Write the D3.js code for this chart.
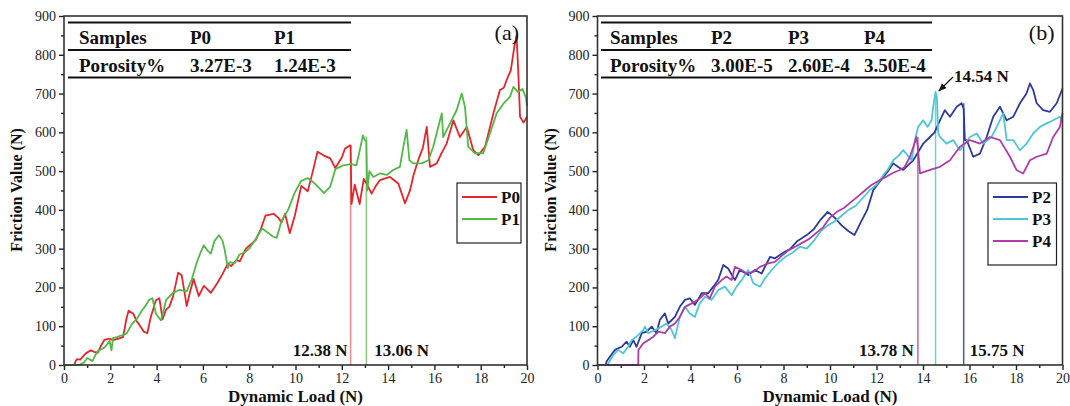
<!DOCTYPE html>
<html>
<head>
<meta charset="utf-8">
<script src="https://cdn.jsdelivr.net/npm/d3@7"></script>
<style>
  body { margin: 0; background: #fff; }
  svg { display: block; }
</style>
</head>
<body>
<svg width="1070" height="406" font-family="Liberation Serif, DejaVu Serif, serif"></svg>
<script>
const svg = d3.select("svg");
const SERIF = "Liberation Serif, DejaVu Serif, serif";

// [dynamic load (N), friction (N)]
const p0 = [[0,0],[0.45,0],[0.5,10],[0.56,15],[0.7,14],[0.94,30],[1.16,38],[1.3,34],[1.46,32],[1.6,50],[1.75,65],[1.95,68],[2.12,64],[2.35,68],[2.55,72],[2.7,120],[2.79,140],[3.0,132],[3.12,115],[3.23,106],[3.45,86],[3.6,82],[3.75,124],[3.97,167],[4.12,172],[4.26,118],[4.4,142],[4.55,150],[4.71,177],[4.85,215],[4.93,238],[5.08,232],[5.2,190],[5.3,152],[5.45,190],[5.6,222],[5.82,178],[6.04,204],[6.2,195],[6.34,186],[6.5,200],[6.63,212],[6.85,235],[7.08,262],[7.22,255],[7.44,270],[7.6,268],[7.86,300],[8.05,310],[8.28,322],[8.5,350],[8.7,385],[9.05,390],[9.25,380],[9.4,368],[9.55,390],[9.75,340],[9.97,385],[10.25,462],[10.53,448],[10.75,500],[10.95,550],[11.23,540],[11.5,533],[11.72,508],[12.0,535],[12.14,558],[12.35,566],[12.38,566],[12.42,415],[12.56,465],[12.77,415],[12.95,480],[13.05,470],[13.29,442],[13.45,460],[13.65,477],[14.08,485],[14.44,468],[14.6,440],[14.73,417],[14.95,451],[15.1,490],[15.3,528],[15.5,560],[15.67,614],[15.81,511],[16.1,520],[16.3,545],[16.53,571],[16.82,631],[17.1,588],[17.4,614],[17.68,554],[17.9,541],[18.19,563],[18.55,649],[18.83,709],[19.0,715],[19.12,735],[19.3,760],[19.45,820],[19.55,850],[19.62,760],[19.7,640],[19.85,625],[20,640]];
const p1 = [[0,0],[0.64,0],[0.75,3],[0.86,6],[1.0,18],[1.1,15],[1.23,10],[1.35,25],[1.46,36],[1.6,40],[1.75,45],[1.97,62],[2.05,38],[2.12,70],[2.3,72],[2.42,75],[2.6,78],[2.71,82],[2.94,106],[3.15,119],[3.38,142],[3.55,155],[3.67,168],[3.82,172],[3.97,132],[4.1,122],[4.19,115],[4.3,140],[4.41,168],[4.71,186],[5.0,194],[5.3,190],[5.52,221],[5.74,265],[5.9,290],[6.04,309],[6.2,295],[6.34,287],[6.5,320],[6.7,335],[6.85,320],[6.93,300],[7.08,250],[7.16,265],[7.37,262],[7.58,285],[7.8,290],[8.0,300],[8.28,325],[8.56,352],[8.84,340],[9.0,332],[9.19,328],[9.4,372],[9.68,400],[9.97,445],[10.25,475],[10.53,482],[10.7,475],[10.88,465],[11.05,455],[11.23,443],[11.5,460],[11.72,505],[12.07,515],[12.42,518],[12.63,515],[12.8,560],[12.91,592],[13.0,580],[13.06,577],[13.1,450],[13.19,500],[13.36,485],[13.65,494],[13.94,490],[14.22,503],[14.51,511],[14.65,560],[14.8,606],[14.92,528],[15.09,520],[15.45,520],[15.74,528],[15.95,563],[16.15,610],[16.32,649],[16.38,588],[16.6,614],[16.96,657],[17.18,700],[17.32,666],[17.46,563],[17.75,546],[18.11,546],[18.4,597],[18.69,649],[18.98,674],[19.27,692],[19.41,717],[19.62,704],[19.8,712],[19.95,690],[20,668]];
const p2 = [[0,0],[0.35,0],[0.39,9],[0.53,21],[0.75,39],[1.04,47],[1.25,60],[1.39,47],[1.54,64],[1.68,47],[1.9,82],[2.11,86],[2.33,99],[2.54,82],[2.68,116],[2.9,133],[3.04,107],[3.33,124],[3.54,150],[3.76,168],[3.97,172],[4.19,155],[4.48,185],[4.76,185],[4.98,202],[5.19,219],[5.41,258],[5.62,249],[5.91,219],[6.12,245],[6.48,232],[6.77,245],[7.06,236],[7.42,279],[7.63,275],[8.0,290],[8.3,300],[8.6,320],[9.0,335],[9.3,350],[9.6,375],[9.9,395],[10.2,380],[10.5,360],[10.8,345],[11.05,335],[11.3,365],[11.6,400],[11.86,451],[12.1,470],[12.29,485],[12.5,500],[12.72,520],[12.95,510],[13.15,503],[13.35,515],[13.58,528],[13.8,550],[14.01,571],[14.3,588],[14.5,600],[14.73,631],[14.94,657],[15.16,640],[15.45,666],[15.66,675],[15.75,660],[15.8,580],[15.88,580],[16.16,537],[16.45,545],[16.74,588],[17.02,640],[17.31,666],[17.6,631],[17.88,640],[18.17,675],[18.45,700],[18.6,726],[18.74,709],[18.89,675],[19.17,657],[19.46,653],[19.75,675],[20,713]];
const p3 = [[0,0],[0.42,0],[0.46,4],[0.68,26],[0.89,39],[1.1,30],[1.32,47],[1.47,64],[1.68,73],[1.97,90],[2.04,99],[2.18,82],[2.47,90],[2.76,99],[2.97,107],[3.19,90],[3.33,69],[3.54,124],[3.76,150],[3.97,133],[4.19,124],[4.4,159],[4.62,176],[4.91,168],[5.19,193],[5.48,202],[5.77,180],[5.98,202],[6.2,219],[6.48,245],[6.7,211],[6.99,202],[7.2,223],[7.49,245],[7.8,265],[8.1,280],[8.4,290],[8.7,305],[9.0,300],[9.3,320],[9.6,345],[9.9,360],[10.2,370],[10.5,385],[10.8,400],[11.1,410],[11.4,430],[11.7,450],[12.0,465],[12.3,490],[12.5,505],[12.72,528],[12.95,540],[13.15,554],[13.35,540],[13.51,528],[13.65,580],[13.79,614],[14.01,631],[14.2,614],[14.37,631],[14.45,670],[14.54,704],[14.6,690],[14.65,600],[14.73,588],[15.01,571],[15.3,580],[15.59,554],[16.02,588],[16.31,597],[16.59,571],[16.95,588],[17.17,614],[17.45,649],[17.6,580],[17.88,580],[18.17,554],[18.46,571],[18.74,597],[19.03,614],[19.32,623],[19.6,631],[19.89,640],[20,630]];
const p4 = [[0,0],[1.75,0],[1.76,39],[1.97,56],[2.18,64],[2.4,73],[2.61,86],[2.9,82],[3.11,99],[3.33,107],[3.54,124],[3.76,150],[4.05,159],[4.33,168],[4.62,185],[4.83,172],[5.05,202],[5.34,219],[5.55,228],[5.77,219],[5.91,253],[6.2,245],[6.41,236],[6.7,240],[6.99,253],[7.34,262],[7.63,266],[7.9,280],[8.2,295],[8.5,305],[8.8,315],[9.1,325],[9.4,340],[9.7,355],[10.0,380],[10.3,395],[10.6,405],[10.9,420],[11.2,435],[11.5,450],[11.8,465],[12.1,475],[12.4,485],[12.7,495],[13.0,503],[13.2,510],[13.44,537],[13.6,565],[13.72,588],[13.78,560],[13.87,494],[14.3,503],[14.73,511],[15.16,528],[15.59,563],[16.02,580],[16.45,571],[16.88,588],[17.31,580],[17.74,537],[18.02,503],[18.31,494],[18.6,528],[18.89,537],[19.32,545],[19.6,588],[19.89,614],[20,650]];

// failure loads: [load, top of marker line]
const failA = [[12.38, 566], [13.06, 590]];
const failB = [[13.78, 588], [14.54, 704], [15.75, 675]];

const xTicks = d3.range(0, 21, 2);
const yTicks = d3.range(0, 901, 100);

const tableA = [["Samples", "P0", "P1"], ["Porosity%", "3.27E-3", "1.24E-3"]];
const tableB = [["Samples", "P2", "P3", "P4"], ["Porosity%", "3.00E-5", "2.60E-4", "3.50E-4"]];

const colors = {P0: "#e3262b", P1: "#52b848", P2: "#2d3a9c", P3: "#4fc6d6", P4: "#b03ca9"};
const lightColors = {P0: "#e88c8c", P1: "#86cc7e", P2: "#4b58b0", P3: "#6dd0dc", P4: "#b866b8"};

function panel(opt) {
  const x = d3.scaleLinear().domain([0, 20]).range([opt.left, opt.right]);
  const y = d3.scaleLinear().domain([0, 900]).range([365, 16]);
  const g = svg.append("g");

  // axes
  g.append("g").attr("transform", "translate(0,365)")
    .call(d3.axisBottom(x).tickValues(xTicks).tickSize(5).tickPadding(3));
  g.append("g").attr("transform", "translate(0,365)")
    .call(d3.axisBottom(x).tickValues(d3.range(1, 20, 2)).tickSize(3).tickFormat(""));
  g.append("g").attr("transform", `translate(${opt.left},0)`)
    .call(d3.axisLeft(y).tickValues(yTicks).tickSize(5).tickPadding(3));
  g.append("g").attr("transform", `translate(${opt.left},0)`)
    .call(d3.axisLeft(y).tickValues(d3.range(50, 900, 100)).tickSize(3).tickFormat(""));
  g.selectAll(".domain").remove();
  g.selectAll("g").attr("font-family", SERIF);
  g.selectAll(".tick line").attr("stroke", "#222").attr("stroke-width", 1.4);
  g.selectAll(".tick text").attr("font-size", 14).attr("fill", "#222");

  // marker lines
  g.selectAll(".fail").data(opt.fails).join("line")
    .attr("x1", d => x(d[0])).attr("x2", d => x(d[0]))
    .attr("y1", y(0)).attr("y2", d => y(d[1]))
    .attr("stroke", (d, i) => lightColors[opt.failKeys[i]]).attr("stroke-width", 1.5);

  // curves
  const line = d3.line().x(d => x(d[0])).y(d => y(d[1]));
  opt.series.forEach(s => {
    g.append("path").datum(s.data).attr("d", line)
      .attr("fill", "none").attr("stroke", colors[s.key])
      .attr("stroke-width", 1.8).attr("stroke-linejoin", "round");
  });

  // frame
  g.append("rect").attr("x", opt.left).attr("y", 16)
    .attr("width", opt.right - opt.left).attr("height", 349)
    .attr("fill", "none").attr("stroke", "#333").attr("stroke-width", 1.6);

  // table
  const t = g.append("g").attr("font-family", SERIF);
  [0, 1, 2].forEach(r => {
    t.append("line").attr("x1", opt.tableX0).attr("x2", opt.tableX1)
      .attr("y1", 22.5 + r * 27.5).attr("y2", 22.5 + r * 27.5)
      .attr("stroke", "#111").attr("stroke-width", 2.2);
  });
  opt.table.forEach((row, r) => {
    row.forEach((cell, c) => {
      t.append("text").attr("x", opt.tableCols[c]).attr("y", 44 + r * 27.5)
        .attr("font-size", 19).attr("font-weight", "bold").attr("fill", "#111")
        .text(cell);
    });
  });

  // panel label
  g.append("text").attr("x", opt.right - 8).attr("y", 40).attr("text-anchor", "end")
    .attr("font-family", SERIF).attr("font-size", 22).attr("fill", "#111").text(opt.label);

  // legend
  const lg = g.append("g").attr("font-family", SERIF);
  const rows = opt.series.length;
  lg.append("rect").attr("x", opt.legX).attr("y", 183)
    .attr("width", opt.right - 6 - opt.legX).attr("height", 16 + rows * 22)
    .attr("fill", "#fff").attr("stroke", "#222").attr("stroke-width", 1.2);
  opt.series.forEach((s, i) => {
    const yy = 197 + i * 22;
    lg.append("line").attr("x1", opt.legX + 5).attr("x2", opt.legX + 40)
      .attr("y1", yy).attr("y2", yy).attr("stroke", colors[s.key]).attr("stroke-width", 1.8);
    lg.append("text").attr("x", opt.legX + 44).attr("y", yy + 6)
      .attr("font-size", 17).attr("font-weight", "bold").attr("fill", "#111").text(s.key);
  });

  // axis titles
  g.append("text").attr("x", (opt.left + opt.right) / 2).attr("y", 402)
    .attr("text-anchor", "middle").attr("font-size", 17).attr("font-weight", "bold")
    .attr("font-family", SERIF).attr("fill", "#111").text("Dynamic Load (N)");
  g.append("text").attr("transform", `translate(${opt.left - 42},190) rotate(-90)`)
    .attr("text-anchor", "middle").attr("font-size", 16).attr("font-weight", "bold")
    .attr("font-family", SERIF).attr("fill", "#111").text("Friction Value (N)");

  return {g, x, y};
}

const A = panel({
  left: 64, right: 527, label: "(a)",
  series: [{key: "P0", data: p0}, {key: "P1", data: p1}],
  fails: failA, failKeys: ["P0", "P1"],
  table: tableA, tableX0: 68, tableX1: 351, tableCols: [79, 190, 274],
  legX: 457
});
const B = panel({
  left: 597.5, right: 1062.5, label: "(b)",
  series: [{key: "P2", data: p2}, {key: "P3", data: p3}, {key: "P4", data: p4}],
  fails: failB, failKeys: ["P4", "P3", "P2"],
  table: tableB, tableX0: 601, tableX1: 932, tableCols: [610, 711, 788, 864],
  legX: 988
});

// failure load labels
function note(p, txt, xv, dx, anchor) {
  p.g.append("text").attr("x", p.x(xv) + dx).attr("y", 356)
    .attr("text-anchor", anchor).attr("font-size", 17).attr("font-weight", "bold")
    .attr("font-family", SERIF).attr("fill", "#111").text(txt);
}
note(A, "12.38 N", 12.38, -3, "end");
note(A, "13.06 N", 13.06, 8, "start");
note(B, "13.78 N", 13.78, -4, "end");
note(B, "15.75 N", 15.75, 6, "start");

// arrow to the P3 peak
svg.append("defs").append("marker").attr("id", "arr")
  .attr("viewBox", "0 0 10 10").attr("refX", 9).attr("refY", 5)
  .attr("markerWidth", 7).attr("markerHeight", 7).attr("orient", "auto")
  .append("path").attr("d", "M0,1 L10,5 L0,9 Z").attr("fill", "#111");
const tipX = B.x(14.6), tipY = B.y(704);
B.g.append("line").attr("x1", tipX + 16).attr("y1", tipY - 15)
  .attr("x2", tipX + 2).attr("y2", tipY - 1)
  .attr("stroke", "#111").attr("stroke-width", 1.2).attr("marker-end", "url(#arr)");
B.g.append("text").attr("x", tipX + 17).attr("y", tipY - 10)
  .attr("font-family", SERIF).attr("font-size", 17).attr("font-weight", "bold")
  .attr("fill", "#111").text("14.54 N");
</script>
</body>
</html>
